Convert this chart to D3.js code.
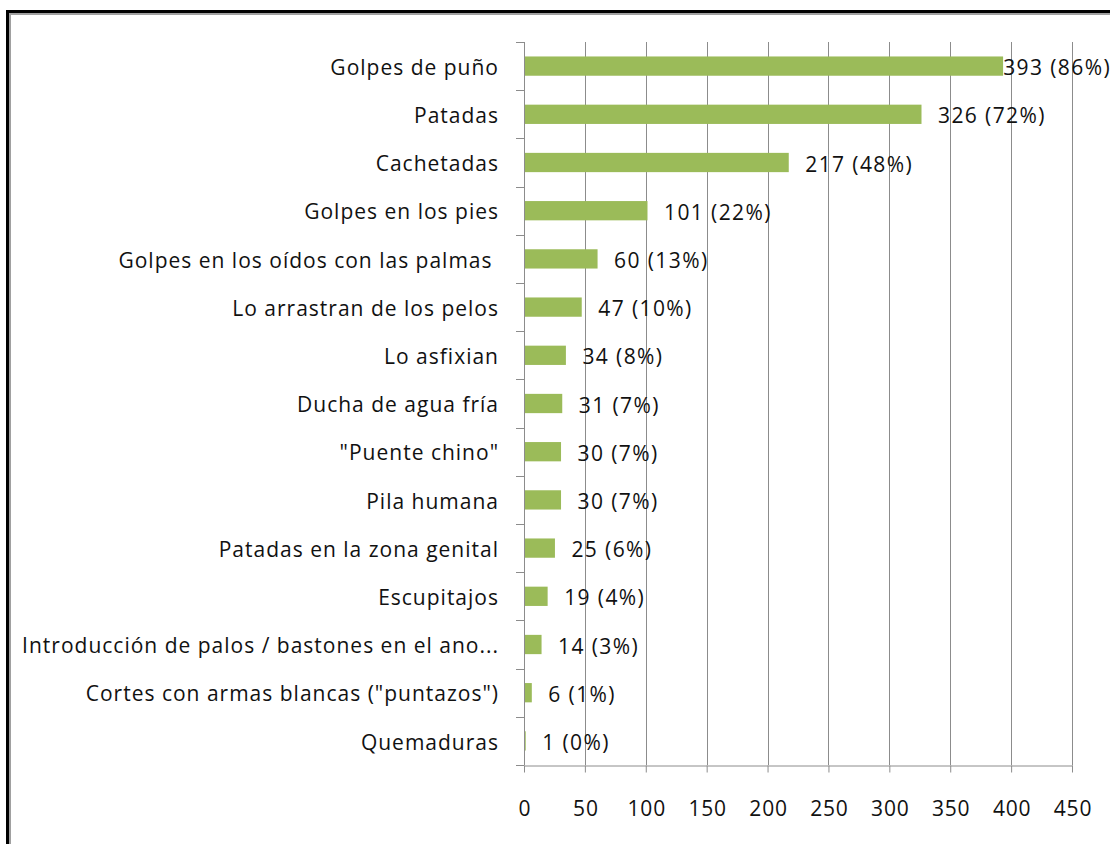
<!DOCTYPE html>
<html>
<head>
<meta charset="utf-8">
<script src="https://cdn.jsdelivr.net/npm/d3@7"></script>
<style>
  html, body { margin: 0; padding: 0; background: #fff; }
  svg text { font-family: "Open Sans", Lato, sans-serif; fill: #111; }
</style>
</head>
<body>
<div id="plot"></div>
<script>
// categories top -> bottom, as in the picture
const categories = [
  "Golpes de puño",
  "Patadas",
  "Cachetadas",
  "Golpes en los pies",
  "Golpes en los oídos con las palmas ",
  "Lo arrastran de los pelos",
  "Lo asfixian",
  "Ducha de agua fría",
  "\"Puente chino\"",
  "Pila humana",
  "Patadas en la zona genital",
  "Escupitajos",
  "Introducción de palos / bastones en el ano...",
  "Cortes con armas blancas (\"puntazos\")",
  "Quemaduras"
];
const counts = [393, 326, 217, 101, 60, 47, 34, 31, 30, 30, 25, 19, 14, 6, 1];
const percents = [86, 72, 48, 22, 13, 10, 8, 7, 7, 7, 6, 4, 3, 1, 0];
const xTicks = [0, 50, 100, 150, 200, 250, 300, 350, 400, 450];

const W = 1110, H = 844;
const margin = {top: 42, right: 38, bottom: 79, left: 524};
const width = W - margin.left - margin.right;
const height = H - margin.top - margin.bottom;
const fontSize = 21;

const svg = d3.select("#plot").append("svg")
    .attr("width", W).attr("height", H);

// outer frame (left + top edges visible)
svg.append("rect").attr("x", 7.5).attr("y", 11.5).attr("width", W + 20).attr("height", H + 20)
   .attr("fill", "none").attr("stroke", "#000").attr("stroke-width", 3);
svg.append("rect").attr("x", 10).attr("y", 14).attr("width", W + 20).attr("height", H + 20)
   .attr("fill", "none").attr("stroke", "#a0a0a0").attr("stroke-width", 2);

const g = svg.append("g").attr("transform", `translate(${margin.left},${margin.top})`);

const x = d3.scaleLinear().domain([0, 450]).range([0, width]);
const y = d3.scaleBand().domain(categories).range([0, height]).paddingInner(0.6).paddingOuter(0.3);
const step = y.step();

// vertical gridlines
g.selectAll("line.grid").data(xTicks.slice(1)).enter().append("line")
  .attr("class", "grid")
  .attr("x1", d => Math.round(x(d)) + 0.5).attr("x2", d => Math.round(x(d)) + 0.5)
  .attr("y1", 0).attr("y2", height)
  .attr("stroke", "#8c8c8c").attr("stroke-width", 1);

// bars
g.selectAll("rect.bar").data(categories).enter().append("rect")
  .attr("class", "bar")
  .attr("x", 0.5)
  .attr("y", d => y(d))
  .attr("width", (d, i) => x(counts[i]))
  .attr("height", y.bandwidth())
  .attr("fill", "#9bbb59");

// x axis
const xAxis = g.append("g").attr("transform", `translate(0.5,${height + 0.5})`)
  .call(d3.axisBottom(x).tickValues(xTicks).tickSize(7).tickPadding(29).tickSizeOuter(0));
xAxis.select(".domain").attr("stroke", "#8c8c8c");
xAxis.selectAll(".tick line").attr("stroke", "#8c8c8c").attr("transform", "translate(-0.5,0)");
xAxis.selectAll(".tick text").attr("font-size", fontSize).attr("fill", "#111")
  .style("font-family", "'Open Sans', Lato, sans-serif")
  .style("letter-spacing", "0.8px");

// y axis line and ticks at band boundaries
g.append("line").attr("x1", 0.5).attr("x2", 0.5).attr("y1", 0).attr("y2", height)
  .attr("stroke", "#8c8c8c");
g.selectAll("line.ytick").data(d3.range(categories.length + 1)).enter().append("line")
  .attr("class", "ytick")
  .attr("x1", -8).attr("x2", 0.5)
  .attr("y1", i => Math.round(i * step) + 0.5).attr("y2", i => Math.round(i * step) + 0.5)
  .attr("stroke", "#8c8c8c");

// category labels
g.selectAll("text.cat").data(categories).enter().append("text")
  .attr("class", "cat")
  .attr("x", -25)
  .attr("y", d => y(d) + y.bandwidth() / 2)
  .attr("dy", "0.41em")
  .attr("text-anchor", "end")
  .attr("font-size", fontSize)
  .style("white-space", "pre")
  .style("letter-spacing", "1px")
  .text(d => d);

// value labels
g.selectAll("text.val").data(categories).enter().append("text")
  .attr("class", "val")
  .attr("y", d => y(d) + y.bandwidth() / 2)
  .attr("dy", "0.43em")
  .attr("font-size", fontSize)
  .style("letter-spacing", "1.4px")
  .text((d, i) => `${counts[i]} (${percents[i]}%)`)
  .attr("x", function(d, i) {
    const w = this.getComputedTextLength();
    return Math.min(x(counts[i]) + 17, W - margin.left - w + 1);
  });
</script>
</body>
</html>
